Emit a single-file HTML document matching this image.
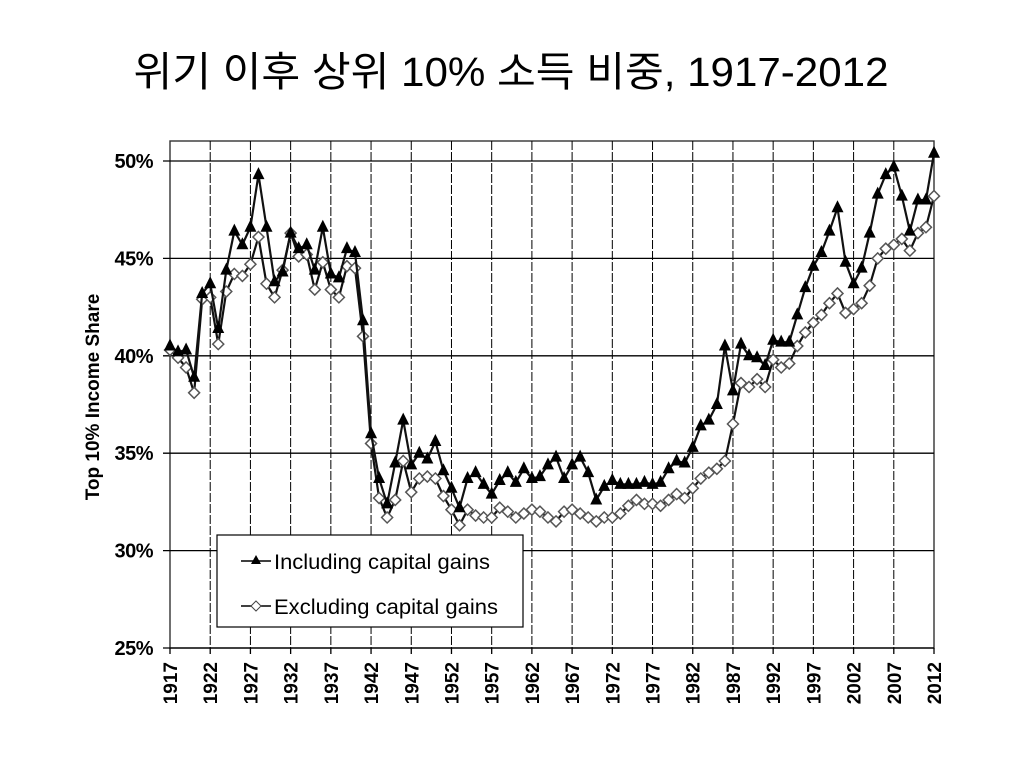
<!DOCTYPE html>
<html><head><meta charset="utf-8">
<style>
body{margin:0;background:#fff;width:1024px;height:768px;overflow:hidden;}
svg text{font-family:"Liberation Sans",Arial,sans-serif;}
</style></head>
<body>
<svg width="1024" height="768">
<text x="511" y="86" text-anchor="middle" font-size="41" textLength="755" lengthAdjust="spacingAndGlyphs" style="font-family:'Liberation Sans','Noto Sans CJK KR',sans-serif">위기 이후 상위 10% 소득 비중, 1917-2012</text>
<g id="grid"></g>
<g id="axes"></g>
<g id="series"></g>
<text transform="translate(99,397) rotate(-90)" text-anchor="middle" font-size="19" font-weight="bold">Top 10% Income Share</text>
<g>
<rect x="217" y="535" width="306" height="92" fill="#fff" stroke="#000" stroke-width="1.2"></rect>
<line x1="241" y1="561" x2="271" y2="561" stroke="#000" stroke-width="1.4"></line>
<path d="M256,555 L261,564 L251,564Z" fill="#000"></path>
<text x="274" y="569" font-size="21" textLength="216" lengthAdjust="spacingAndGlyphs">Including capital gains</text>
<line x1="241" y1="606" x2="271" y2="606" stroke="#000" stroke-width="1.4"></line>
<path d="M256,601 L261,606 L256,611 L251,606Z" fill="#fff" stroke="#444"></path>
<text x="274" y="614" font-size="21" textLength="224" lengthAdjust="spacingAndGlyphs">Excluding capital gains</text>
</g>
</svg>
<script>
const years=[];for(let y=1917;y<=2012;y++)years.push(y);
const yTicks=[25,30,35,40,45,50];
const xTickYears=[1917,1922,1927,1932,1937,1942,1947,1952,1957,1962,1967,1972,1977,1982,1987,1992,1997,2002,2007,2012];
const including=[40.5,40.2,40.3,38.9,43.2,43.7,41.4,44.4,46.4,45.7,46.6,49.3,46.6,43.8,44.3,46.3,45.5,45.7,44.4,46.6,44.2,44.0,45.5,45.3,41.8,36.0,33.7,32.4,34.5,36.7,34.4,35.0,34.7,35.6,34.1,33.2,32.2,33.7,34.0,33.4,32.9,33.6,34.0,33.5,34.2,33.7,33.8,34.4,34.8,33.7,34.4,34.8,34.0,32.6,33.3,33.6,33.4,33.4,33.4,33.5,33.4,33.5,34.2,34.6,34.5,35.3,36.4,36.7,37.5,40.5,38.2,40.6,40.0,39.9,39.5,40.8,40.7,40.7,42.1,43.5,44.6,45.3,46.4,47.6,44.8,43.7,44.5,46.3,48.3,49.3,49.7,48.2,46.4,48.0,48.0,50.4];
const excluding=[40.3,39.9,39.4,38.1,42.9,43.0,40.6,43.3,44.2,44.1,44.7,46.1,43.7,43.0,44.4,46.3,45.1,45.2,43.4,44.8,43.4,43.0,44.6,44.5,41.0,35.5,32.7,31.7,32.6,34.6,33.0,33.7,33.8,33.7,32.8,32.1,31.3,32.1,31.8,31.7,31.7,32.2,32.0,31.7,31.9,32.1,32.0,31.7,31.5,32.0,32.1,31.9,31.7,31.5,31.7,31.7,31.9,32.3,32.6,32.4,32.4,32.3,32.6,32.9,32.7,33.2,33.7,34.0,34.2,34.6,36.5,38.6,38.4,38.8,38.4,39.8,39.4,39.6,40.5,41.2,41.7,42.1,42.7,43.2,42.2,42.4,42.7,43.6,45.0,45.5,45.7,46.0,45.4,46.3,46.6,48.2];
const NS='http://www.w3.org/2000/svg';
const X0=170,X1=934,Y25=648,Y50=161;
const xs=y=>X0+(y-1917)*(X1-X0)/95;
const ys=v=>Y25-(v-25)*(Y25-Y50)/25;
function mk(t,a,p){const e=document.createElementNS(NS,t);for(const k in a)e.setAttribute(k,a[k]);p.appendChild(e);return e;}
const grid=document.getElementById('grid'),axes=document.getElementById('axes'),ser=document.getElementById('series');
mk('rect',{x:X0,y:141,width:X1-X0,height:Y25-141,fill:'none',stroke:'#333','stroke-width':1.4},grid);
yTicks.forEach(v=>{
 const l=mk('line',{x1:163,x2:X1,y1:ys(v),y2:ys(v),stroke:'#000','stroke-width':1.3},grid);
 
 
 const t=mk('text',{x:153,y:ys(v)+7,'text-anchor':'end','font-size':20,'font-weight':'bold','letter-spacing':'-0.5'},axes);
 t.textContent=v+'%';
 
 
});
xTickYears.forEach(y=>{
 const x=xs(y);
 if(y!==1917&&y!==2012){const l=mk('line',{x1:x,x2:x,y1:141,y2:Y25,stroke:'#000','stroke-width':1,'stroke-dasharray':'9,2'},grid);
 
 }
 mk('line',{x1:x,x2:x,y1:Y25,y2:Y25+6,stroke:'#000','stroke-width':1.3},axes);
 const t=mk('text',{transform:`translate(${x+7},662) rotate(-90)`,'text-anchor':'end','font-size':19,'font-weight':'bold'},axes);
 t.textContent=y;
 
 
});
function line(arr,name){
 const p=mk('polyline',{points:arr.map((v,i)=>xs(years[i])+','+ys(v)).join(' '),fill:'none',stroke:'#111','stroke-width':2.2},ser);
 
 
}
line(excluding,'excluding-line');
excluding.forEach((v,i)=>{const x=xs(years[i]),y=ys(v);
 const m=mk('path',{d:`M${x},${y-5.5} L${x+5.5},${y} L${x},${y+5.5} L${x-5.5},${y}Z`,fill:'#fff',stroke:'#555','stroke-width':1.5},ser);
 
 });
line(including,'including-line');
including.forEach((v,i)=>{const x=xs(years[i]),y=ys(v);
 const m=mk('path',{d:`M${x},${y-7.5} L${x+6},${y+4.5} L${x-6},${y+4.5}Z`,fill:'#000'},ser);
 
 });
</script>
</body></html>
